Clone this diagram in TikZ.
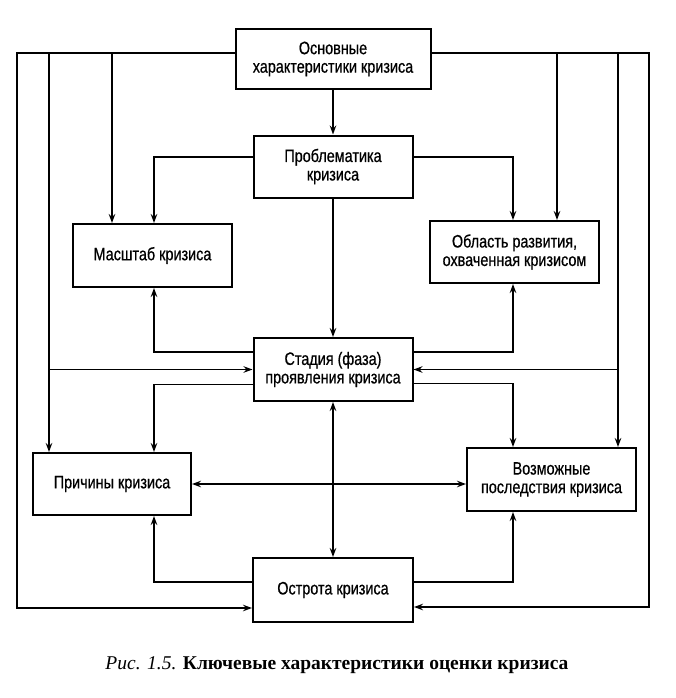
\documentclass[tikz,border=0pt]{standalone}
\usepackage{fontspec}
\setmainfont{Liberation Serif}
\newfontfamily\boxfont{Liberation Sans}[FakeStretch=0.8,FakeBold=0.6]
\usetikzlibrary{arrows.meta}

\tikzset{
  box/.style={draw,line width=2pt,align=center,inner sep=0pt,
    minimum width=159pt,minimum height=62pt,
    font=\boxfont\fontsize{18}{18.5}\selectfont},
  link/.style={line width=1.6pt,-{Stealth[length=9pt,width=6.5pt]}},
  both/.style={line width=1.6pt,{Stealth[length=9pt,width=6.5pt]}-{Stealth[length=9pt,width=6.5pt]}},
}

\begin{document}
\begin{tikzpicture}[x=1pt,y=-1pt]
  \useasboundingbox (0,0) rectangle (675,698);

  \begin{scope}[every node/.style={box}]
    \node[minimum width=195pt,minimum height=60pt] (osn) at (333,59) {Основные\\характеристики кризиса};
    \node (prob)  at (333,166.5) {Проблематика\\кризиса};
    \node[minimum height=63pt] (masht) at (152.5,255.5) {Масштаб кризиса};
    \node[minimum width=169pt] (obl) at (514.5,252) {Область развития,\\охваченная кризисом};
    \node[minimum height=63pt] (stad)  at (333,369.5) {Стадия (фаза)\\проявления кризиса};
    \node[minimum width=158pt] (prich) at (112,484) {Причины кризиса};
    \node[minimum width=169pt,minimum height=63pt] (vozm) at (551.5,479.5) {Возможные\\последствия кризиса};
    \node[minimum width=160pt,minimum height=64pt] (ostr) at (333,590) {Острота кризиса};
  \end{scope}

  % columns of the frame
  \coordinate (l0) at (17,53);
  \coordinate (l1) at (49,53);
  \coordinate (l2) at (112,53);
  \coordinate (r0) at (649,53);
  \coordinate (r1) at (618,53);
  \coordinate (r2) at (557,53);
  \coordinate (lc) at (154,0);
  \coordinate (rc) at (513,0);

  % outer frame
  \draw[link] (osn.west |- l0) -- (l0) |- ([yshift=-18pt]ostr.west);
  \draw[link] (l1) -- (l1 |- prich.north);
  \draw[link] (l2) -- (l2 |- masht.north);
  \draw[link] (l1 |- stad.west) -- (stad.west);
  \draw[link] (osn.east |- r0) -- (r0) |- ([yshift=-17pt]ostr.east);
  \draw[link] (r1) -- (r1 |- vozm.north);
  \draw[link] (r2) -- (r2 |- obl.north);
  \draw[link] (r1 |- stad.east) -- (stad.east);

  % centre column
  \draw[link] (osn) -- (prob);
  \draw[link] (prob) -- (stad);
  \draw[both] (stad) -- (ostr);

  \draw[link] ([yshift=9.5pt]prob.west) -| (lc |- masht.north);
  \draw[link] ([yshift=9.5pt]prob.east) -| (rc |- obl.north);
  \draw[link] ([yshift=17.5pt]stad.west) -| (lc |- masht.south);
  \draw[link] ([yshift=17.5pt]stad.east) -| (rc |- obl.south);
  \draw[link] ([yshift=-15pt]stad.west) -| (lc |- prich.north);
  \draw[link] ([yshift=-14pt]stad.east) -| (rc |- vozm.north);
  \draw[both] (prich.east) -- (prich.east -| vozm.west);
  \draw[link] ([yshift=8pt]ostr.west) -| (lc |- prich.south);
  \draw[link] ([yshift=8pt]ostr.east) -| (rc |- vozm.south);

  \node[font=\fontsize{19.5}{21}\selectfont] (cap) at (337,665)
    {\textit{Рис. 1.5.} \textbf{Ключевые характеристики оценки кризиса}};
\end{tikzpicture}
\end{document}
